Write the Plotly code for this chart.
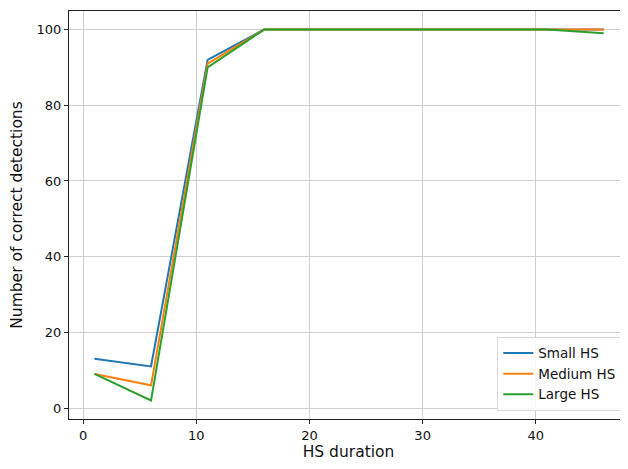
import plotly.graph_objects as go

hs_duration = [1, 6, 11, 16, 21, 26, 31, 36, 41, 46]
small_hs = [13, 11, 92, 100, 100, 100, 100, 100, 100, 100]
medium_hs = [9, 6, 91, 100, 100, 100, 100, 100, 100, 100]
large_hs = [9, 2, 90, 100, 100, 100, 100, 100, 100, 99]

series = [
    ("Small HS", small_hs, "#1f77b4"),
    ("Medium HS", medium_hs, "#ff7f0e"),
    ("Large HS", large_hs, "#2ca02c"),
]

fig = go.Figure()
for name, vals, color in series:
    fig.add_trace(go.Scatter(x=hs_duration, y=vals, mode="lines", name=name,
                             line=dict(color=color, width=2)))

font = "DejaVu Sans"
axis_common = dict(
    showline=True, linecolor="#222222", linewidth=1.2,
    showgrid=True, gridcolor="#cfcfcf", gridwidth=1.4,
    ticks="outside", ticklen=4, tickcolor="#222222", tickwidth=1,
    zeroline=False, automargin=False,
    tickfont=dict(family=font, size=13, color="#111111"),
)

# page body has an 8px margin, so the figure is sized to the remaining area
fig.update_layout(
    width=620, height=453,
    margin=dict(l=61, r=0, t=3, b=42),
    paper_bgcolor="white", plot_bgcolor="white",
    font=dict(family=font, color="#111111"),
    xaxis=dict(range=[-1.25, 48.15], tickvals=[0, 10, 20, 30, 40], mirror=True,
               title=dict(text="HS duration", font=dict(family=font, size=15.5), standoff=6),
               **axis_common),
    yaxis=dict(range=[-2.9, 104.9], tickvals=[0, 20, 40, 60, 80, 100], mirror=False,
               title=dict(text="Number of correct detections", font=dict(family=font, size=15.5), standoff=15),
               **axis_common),
    legend=dict(x=0.988, y=0.02, xanchor="right", yanchor="bottom",
                bgcolor="rgba(255,255,255,0.85)", bordercolor="#d8d8d8", borderwidth=1,
                font=dict(family=font, size=13.5, color="#111111"), itemwidth=30,
                tracegroupgap=0),
    showlegend=True,
)

fig.write_html("out.html")
